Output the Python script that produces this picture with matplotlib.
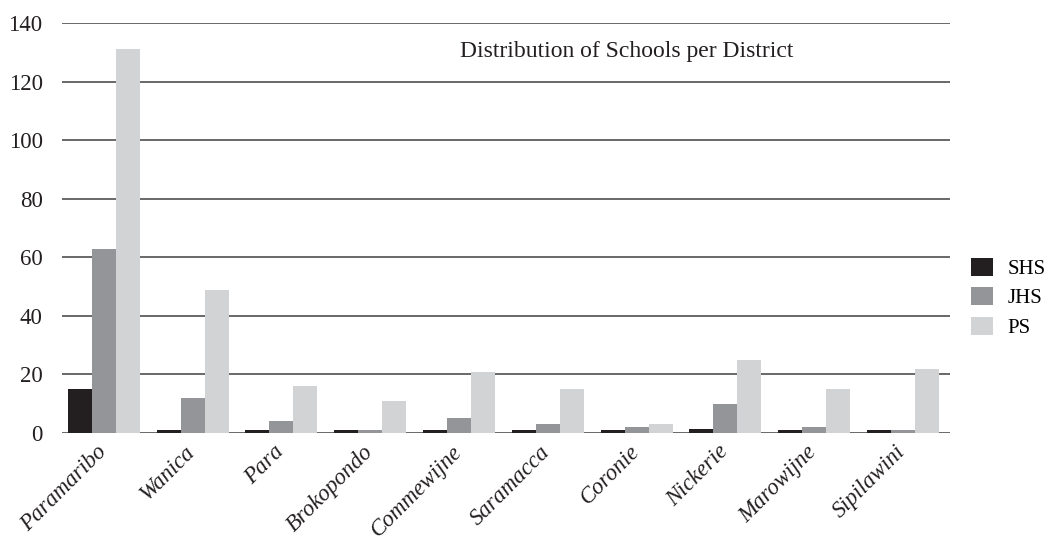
import numpy as np
import matplotlib
matplotlib.use("Agg")
import matplotlib.pyplot as plt

districts = ['Paramaribo', 'Wanica', 'Para', 'Brokopondo', 'Commewijne',
             'Saramacca', 'Coronie', 'Nickerie', 'Marowijne', 'Sipilawini']
shs = [15, 1, 1, 1, 1, 1, 1, 1.5, 1, 1]
jhs = [63, 12, 4, 1, 5, 3, 2, 10, 2, 1]
ps = [131, 49, 16, 11, 21, 15, 3, 25, 15, 22]

series = [('SHS', shs, '#231f20'), ('JHS', jhs, '#939598'), ('PS', ps, '#d1d3d4')]

plt.rcParams['font.family'] = ['Liberation Serif', 'DejaVu Serif']

fig = plt.figure(figsize=(10.46, 5.44), dpi=100)
ax = fig.add_axes([62 / 1046, 1 - 433 / 544, 888 / 1046, 410 / 544])

x = np.arange(len(districts))
w = 0.27
for i, (name, vals, col) in enumerate(series):
    ax.bar(x + (i - 1) * w - 0.03, vals, width=w, color=col, label=name, zorder=3)

ax.set_xlim(-0.5, len(districts) - 0.5)
ax.set_ylim(0, 140)
ax.set_yticks(range(0, 141, 20))
ax.yaxis.grid(True, color='#404040', linewidth=1.1, zorder=0)
ax.set_axisbelow(True)
for s in ax.spines.values():
    s.set_visible(False)
ax.tick_params(axis='both', length=0, colors='#231f20')
ax.tick_params(axis='y', pad=14, labelsize=16.5)
ax.set_xticks(x - 0.12)
ax.set_xticklabels(districts, rotation=45, ha='right', rotation_mode='anchor',
                   style='italic', fontsize=16.5)
ax.tick_params(axis='x', pad=6)

ax.text(0.636, 0.93, 'Distribution of Schools per District', transform=ax.transAxes,
        ha='center', va='center', fontsize=17, color='#231f20')

ax.legend(loc='center left', bbox_to_anchor=(1.012, 0.33), frameon=False,
          fontsize=15, handlelength=1.05, handleheight=0.95, labelspacing=0.4,
          handletextpad=0.7, borderaxespad=0.3, borderpad=0.2)

fig.savefig('out.png', dpi=100)
